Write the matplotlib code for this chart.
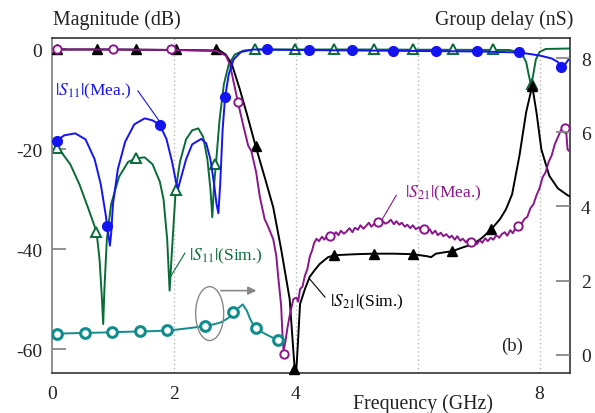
import matplotlib
matplotlib.use("Agg")
import matplotlib.pyplot as plt
from matplotlib.patches import Ellipse

plt.rcParams['font.family'] = ['Liberation Serif', 'DejaVu Serif']
plt.rcParams['mathtext.fontset'] = 'stix'
plt.rcParams['axes.unicode_minus'] = False

# ---------------- data (frequency in GHz) ----------------
# |S11| measured (dB)
s11m_f = [0.05, 0.2, 0.38, 0.55, 0.7, 0.8, 0.88, 0.93, 0.95, 0.97, 1.0, 1.08, 1.2, 1.35, 1.52, 1.65, 1.77,
          1.88, 1.97, 2.04, 2.07, 2.11, 2.2, 2.3, 2.45, 2.53, 2.6, 2.66, 2.7, 2.73, 2.76, 2.8, 2.84, 2.9,
          2.98, 3.1, 3.3, 4.0, 5.0, 6.0, 7.0, 7.67, 8.0, 8.2, 8.3, 8.36, 8.42, 8.5]
s11m_db = [-18.5, -17.2, -16.8, -18.0, -22.0, -27.0, -33.0, -37.5, -39.3, -37.0, -31.0, -24.0, -18.5, -15.0,
           -13.8, -14.2, -15.1, -18.0, -22.5, -26.8, -27.8, -26.0, -22.0, -19.0, -17.9, -18.8, -22.0, -27.0,
           -31.0, -32.8, -27.0, -16.0, -9.6, -5.0, -2.0, -0.5, 0.0, -0.1, -0.2, -0.3, -0.4, -0.6, -1.2,
           -1.8, -2.5, -3.6, -3.0, -1.6]
s11m_mk_f = [0.09, 0.91, 1.77, 2.84, 3.52, 4.21, 4.92, 5.59, 6.30, 6.98, 7.67, 8.36]
s11m_mk_db = [-18.3, -35.3, -15.1, -9.6, 0.0, -0.1, -0.2, -0.3, -0.3, -0.4, -0.6, -3.6]

# |S11| simulated (dB)
s11s_f = [0.05, 0.15, 0.3, 0.45, 0.6, 0.73, 0.78, 0.82, 0.84, 0.86, 0.9, 0.97, 1.1, 1.25, 1.39, 1.52, 1.65,
          1.77, 1.83, 1.89, 1.93, 1.97, 2.03, 2.1, 2.2, 2.3, 2.4, 2.48, 2.55, 2.6, 2.63, 2.66, 2.69, 2.75,
          2.82, 2.9, 3.0, 3.15, 3.4, 5.0, 7.5, 7.7, 7.78, 7.83, 7.86, 7.89, 7.94, 8.0, 8.1, 8.5]
s11s_db = [-19.5, -20.5, -23.0, -27.0, -32.0, -36.5, -42.0, -50.0, -55.0, -48.0, -38.0, -31.0, -25.5, -22.5,
           -21.8, -21.6, -23.0, -26.5, -30.0, -38.0, -48.3, -40.0, -28.1, -22.5, -18.0, -16.2, -15.8, -17.5,
           -22.0, -28.0, -33.6, -27.0, -23.0, -14.0, -7.0, -3.0, -1.0, -0.2, 0.0, 0.0, -0.1, -0.6, -2.5, -5.5,
           -7.0, -5.5, -2.0, -0.5, 0.1, 0.2]
s11s_mk_f = [0.08, 0.73, 1.38, 2.03, 2.68, 3.33, 3.98, 4.63, 5.28, 5.93, 6.58, 7.23, 7.87]
s11s_mk_db = [-19.8, -36.5, -21.8, -28.1, -23.0, 0.0, 0.0, 0.0, 0.0, 0.0, 0.0, 0.0, -7.0]

# |S21| simulated (dB)
s21s_f = [0.05, 1.0, 2.0, 2.75, 2.85, 2.95, 3.08, 3.2, 3.34, 3.5, 3.63, 3.76, 3.9, 3.97, 4.0, 4.03, 4.07,
          4.15, 4.23, 4.31, 4.39, 4.53, 4.64, 5.0, 5.28, 5.6, 5.92, 6.15, 6.22, 6.3, 6.45, 6.57, 6.75, 6.91,
          7.05, 7.21, 7.35, 7.45, 7.55, 7.67, 7.78, 7.88, 7.95, 8.03, 8.16, 8.3, 8.46, 8.5]
s21s_db = [0.0, 0.0, -0.1, -0.2, -1.0, -2.9, -7.9, -13.0, -19.3, -26.0, -31.6, -40.0, -50.0, -62.0, -66.0,
           -60.0, -51.0, -48.0, -45.5, -44.2, -43.0, -41.6, -41.2, -41.0, -40.9, -40.9, -41.0, -41.4, -41.6,
           -40.9, -40.6, -40.4, -39.6, -39.0, -37.8, -36.0, -34.0, -32.0, -29.0, -21.3, -12.6, -7.3, -12.6,
           -20.0, -25.3, -27.8, -29.2, -29.4]
s21s_mk_f = [0.08, 0.74, 1.38, 2.03, 2.69, 3.34, 3.97, 4.63, 5.28, 5.92, 6.57, 7.21, 7.87]
s21s_mk_db = [0.0, 0.0, 0.0, 0.0, 0.0, -19.3, -64.0, -41.2, -40.9, -41.0, -40.4, -36.0, -7.3]

# |S21| measured (dB)
s21m_f = [0.05, 1.0, 2.0, 2.7, 2.85, 2.92, 2.98, 3.05, 3.14, 3.22, 3.27, 3.35, 3.41, 3.49, 3.54, 3.63,
          3.68, 3.71, 3.76, 3.78, 3.80, 3.83, 3.86, 3.90, 3.96, 4.01, 4.04, 4.07, 4.11, 4.15, 4.19, 4.23,
          4.27, 4.30, 4.34, 4.38, 4.43, 4.47, 4.52, 4.57, 4.61, 4.66, 4.70, 4.74, 4.79, 4.83, 4.88, 4.93,
          4.97, 5.02, 5.06, 5.11, 5.15, 5.20, 5.24, 5.29, 5.33, 5.38, 5.42, 5.47, 5.52, 5.56, 5.61, 5.65,
          5.70, 5.74, 5.79, 5.83, 5.88, 5.92, 5.97, 6.02, 6.06, 6.11, 6.15, 6.20, 6.24, 6.29, 6.33, 6.38,
          6.42, 6.47, 6.52, 6.56, 6.61, 6.65, 6.70, 6.74, 6.79, 6.84, 6.88, 6.93, 6.97, 7.02, 7.06, 7.11,
          7.15, 7.20, 7.24, 7.29, 7.34, 7.38, 7.43, 7.47, 7.52, 7.56, 7.61, 7.65, 7.70, 7.75, 7.80, 7.85,
          7.90, 7.95, 8.00, 8.05, 8.10, 8.15, 8.20, 8.25, 8.30, 8.35, 8.41, 8.44, 8.46, 8.50]
s21m_db = [0.0, 0.0, -0.1, -0.3, -1.2, -3.0, -6.5, -10.5, -15.3, -19.3, -20.3, -24.6, -29.5, -34.0, -35.3,
           -38.0, -41.3, -45.3, -51.3, -56.7, -60.3, -58.5, -56.0, -53.3, -50.0, -49.7, -50.5, -48.0, -47.5,
           -45.3, -44.0, -41.5, -40.2, -38.8, -37.9, -38.4, -37.5, -38.1, -37.1, -37.7, -37.3, -36.6, -37.2,
           -36.3, -36.9, -36.5, -35.8, -36.6, -35.7, -36.1, -35.2, -35.9, -35.4, -34.7, -35.5, -34.9, -34.4,
           -35.2, -34.3, -34.9, -34.6, -34.1, -35.0, -34.4, -35.1, -34.7, -35.5, -35.1, -35.8, -35.2, -36.0,
           -35.6, -36.3, -35.7, -36.5, -36.0, -36.9, -36.3, -37.2, -36.7, -37.4, -37.0, -37.7, -37.3, -38.1,
           -37.4, -38.3, -37.9, -38.6, -38.0, -38.8, -38.3, -39.0, -38.2, -38.7, -37.8, -38.4, -37.7, -38.1,
           -37.2, -37.7, -37.0, -36.6, -37.3, -36.2, -36.8, -35.7, -35.5, -35.0, -34.0, -33.5, -31.8, -31.0,
           -29.2, -27.8, -25.6, -24.6, -22.5, -21.2, -19.0, -17.6, -16.2, -15.7, -16.8, -20.0, -20.5]
s21m_mk_f = [0.09, 1.0, 1.95, 3.05, 3.81, 4.56, 5.35, 6.11, 6.88, 7.65, 8.41]
s21m_mk_db = [0.0, 0.0, 0.0, -10.5, -61.0, -37.3, -34.6, -36.0, -38.6, -35.3, -15.7]

# group delay (ns), right axis
gd_f = [0.05, 0.3, 0.54, 0.8, 0.99, 1.2, 1.44, 1.7, 1.89, 2.05, 2.2, 2.35, 2.51, 2.65, 2.78, 2.9, 2.97,
        3.05, 3.13, 3.2, 3.25, 3.3, 3.34, 3.42, 3.49, 3.6, 3.71, 3.74]
gd_ns = [0.57, 0.58, 0.59, 0.6, 0.61, 0.62, 0.63, 0.64, 0.66, 0.68, 0.71, 0.74, 0.78, 0.82, 0.88, 1.0, 1.15,
         1.25, 1.36, 1.18, 0.97, 0.82, 0.72, 0.64, 0.57, 0.48, 0.39, 0.42]
gd_mk_f = [0.09, 0.54, 0.99, 1.44, 1.89, 2.51, 2.97, 3.34, 3.71]
gd_mk_ns = [0.57, 0.59, 0.61, 0.63, 0.66, 0.78, 1.15, 0.72, 0.39]

x_ticks = [0, 2, 4, 6, 8]
x_ticklabels = ['0', '2', '4', '', '8']
y_ticks = [0, -20, -40, -60]
y_ticklabels = ['0', '-20', '-40', '-60']
y2_ticks = [0, 2, 4, 6, 8]

BLUE = '#1414f0'
GREEN = '#0b6b38'
PURPLE = '#8a168a'
BLACK = '#000000'
TEAL = '#118c8c'

fig = plt.figure(figsize=(5.95, 4.14), dpi=100)
ax = fig.add_axes([52/595, 1-374/414, (570-52)/595, (374-39)/414])
ax.set_xlim(0, 8.5)
ax.set_ylim(-64.8, 2.3)

for xv in [2, 4, 6, 8]:
    ax.axvline(xv, color='#b5b5b5', lw=1.0, ls=(0, (1, 2)), zorder=0)

lw = 1.4
ax.plot(s11s_f, s11s_db, color=GREEN, lw=lw, zorder=2)
ax.plot(s11s_mk_f, s11s_mk_db, ls='none', marker='^', ms=7.5, mfc='white', mec=GREEN, mew=1.4, zorder=2)
ax.plot(s21s_f, s21s_db, color=BLACK, lw=lw, zorder=3)
ax.plot(s21s_mk_f, s21s_mk_db, ls='none', marker='^', ms=7.5, mfc=BLACK, mec=BLACK, zorder=3, clip_on=False)
ax.plot(s21m_f, s21m_db, color=PURPLE, lw=lw, zorder=4)
ax.plot(s21m_mk_f, s21m_mk_db, ls='none', marker='o', ms=6, mfc='white', mec=PURPLE, mew=1.4, zorder=4)
ax.plot(s11m_f, s11m_db, color=BLUE, lw=lw, zorder=5)
ax.plot(s11m_mk_f, s11m_mk_db, ls='none', marker='o', ms=7, mfc=BLUE, mec=BLUE, zorder=5)

ax.set_xticks(x_ticks)
ax.set_xticklabels(x_ticklabels)
ax.set_yticks(y_ticks)
ax.set_yticklabels(y_ticklabels)
ax.tick_params(axis='x', length=0, pad=9, labelsize=14, colors='#222222')
ax.tick_params(axis='y', direction='in', length=10, width=1.3, color='#888888', pad=7,
               labelsize=14, labelcolor='#222222')
for s in ['top', 'bottom', 'right']:
    ax.spines[s].set_color('#333333')
    ax.spines[s].set_linewidth(1.2)
ax.spines['left'].set_color('#888888')
ax.spines['left'].set_linewidth(1.3)

ax2 = ax.twinx()
ax2.set_ylim(-0.49, 8.54)
ax2.plot(gd_f, gd_ns, color=TEAL, lw=1.4, zorder=3)
ax2.plot(gd_mk_f, gd_mk_ns, ls='none', marker='o', ms=7, mfc='white', mec=TEAL, mew=2.2, zorder=3)
ax2.set_yticks(y2_ticks)
ax2.tick_params(axis='y', direction='in', length=10, width=1.3, color='#888888', pad=8,
                labelsize=14, labelcolor='#222222')
for s in ax2.spines.values():
    s.set_visible(False)

# ellipse + arrow marking group-delay curve
ell = Ellipse((2.587, -52.9), 0.46, 10.8, fill=False, ec='#888888', lw=1.0,
              transform=ax.transData, zorder=6)
ax2.add_patch(ell)
ax.annotate('', xy=(3.40, -48.3), xytext=(2.727, -48.3),
            arrowprops=dict(arrowstyle='-|>', color='#888888', lw=1.2, mutation_scale=12), zorder=6)

# curve labels with leader lines
fs = 12.5
ax.text(0.05, -8.1, r'$|S_{11}|$(Mea.)', color=BLUE, fontsize=fs, va='center', ha='left', zorder=7)
ax.plot([1.41, 1.77], [-8.3, -14.5], color=BLUE, lw=0.8, zorder=7)
ax.text(2.25, -41.2, r'$|S_{11}|$(Sim.)', color=GREEN, fontsize=fs, va='center', ha='left', zorder=7)
ax.plot([2.18, 1.95], [-40.8, -45.4], color=GREEN, lw=0.8, zorder=7)
ax.text(5.79, -28.6, r'$|S_{21}|$(Mea.)', color=PURPLE, fontsize=fs, va='center', ha='left', zorder=7)
ax.plot([5.65, 5.41], [-29.2, -34.2], color=PURPLE, lw=0.8, zorder=7)
ax.text(4.56, -50.4, r'$|S_{21}|$(Sim.)', color=BLACK, fontsize=fs, va='center', ha='left', zorder=7)
ax.plot([4.48, 4.23], [-49.6, -46.0], color=BLACK, lw=0.8, zorder=7)
ax.text(7.55, -59.2, '(b)', color='#222222', fontsize=13.5, va='center', ha='center', zorder=7)

fig.text(53/595, 1-20/414, 'Magnitude (dB)', fontsize=14.3, ha='left', va='center', color='#222222')
fig.text(573/595, 1-20/414, 'Group delay (nS)', fontsize=14.3, ha='right', va='center', color='#222222')
fig.text(423/595, 1-404/414, 'Frequency (GHz)', fontsize=14.3, ha='center', va='center', color='#222222')

fig.savefig('out.png', dpi=100)
